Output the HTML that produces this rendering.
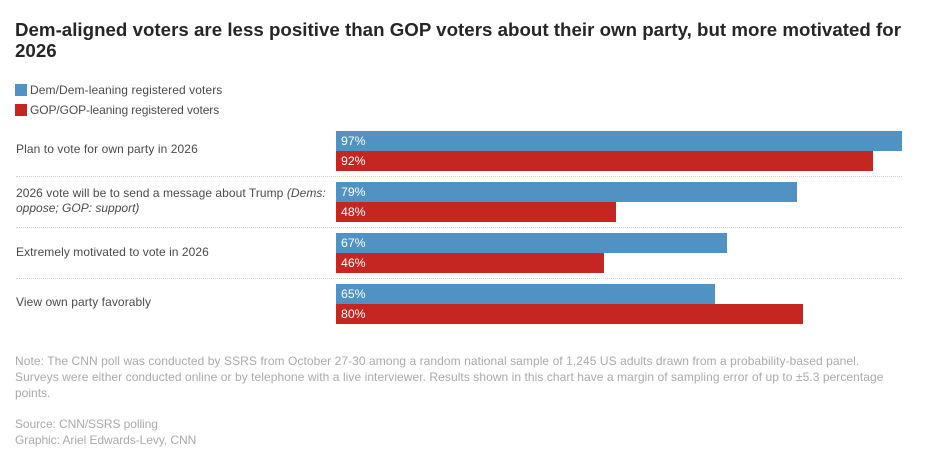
<!DOCTYPE html>
<html lang="en">
<head>
<meta charset="utf-8">
<title>Dem-aligned voters chart</title>
<style>
html,body{margin:0;padding:0;background:#fff;}
body{width:945px;height:472px;position:relative;overflow:hidden;font-family:"Liberation Sans",Arial,sans-serif;}
.t{position:absolute;white-space:nowrap;}
.title{left:15px;font-weight:700;font-size:18.7px;line-height:22px;color:#262626;letter-spacing:.02px;}
.legend-text{left:30px;font-size:12px;line-height:16px;color:#4a4a4a;}
.swatch{position:absolute;left:15px;width:12px;height:12px;}
.label{left:16px;font-size:12px;line-height:15px;color:#4a4a4a;}
.note{left:15px;font-size:12px;line-height:16px;color:#a9a9a9;}
.bar{position:absolute;height:20px;}
.val{position:absolute;left:5px;top:1px;line-height:19px;font-size:12.3px;color:#fff;white-space:nowrap;}
.sep{position:absolute;left:336px;width:566px;height:0;border-top:1px dotted #d2d2d2;}
</style>
</head>
<body>
<div class="t title" style="top:19px">Dem-aligned voters are less positive than GOP voters about their own party, but more motivated for</div>
<div class="t title" style="top:40px">2026</div>

<div class="swatch" style="top:84px;background:#4f92c3"></div>
<div class="t legend-text" style="top:82px;letter-spacing:.09px">Dem/Dem-leaning registered voters</div>
<div class="swatch" style="top:104px;background:#c52622"></div>
<div class="t legend-text" style="top:102px;letter-spacing:-.09px">GOP/GOP-leaning registered voters</div>

<div class="t label" style="top:142px;letter-spacing:.09px">Plan to vote for own party in 2026</div>
<div class="t label" style="top:186px;letter-spacing:.055px">2026 vote will be to send a message about Trump <i>(Dems:</i></div>
<div class="t label" style="top:201px"><i>oppose; GOP: support)</i></div>
<div class="t label" style="top:245px;letter-spacing:.06px">Extremely motivated to vote in 2026</div>
<div class="t label" style="top:295px;letter-spacing:.08px">View own party favorably</div>

<div id="plot"></div>

<div class="t note" style="top:353px;letter-spacing:.068px">Note: The CNN poll was conducted by SSRS from October 27-30 among a random national sample of 1,245 US adults drawn from a probability-based panel.</div>
<div class="t note" style="top:369px;letter-spacing:.0625px">Surveys were either conducted online or by telephone with a live interviewer. Results shown in this chart have a margin of sampling error of up to ±5.3 percentage</div>
<div class="t note" style="top:385px">points.</div>
<div class="t note" style="top:416px;letter-spacing:-.08px">Source: CNN/SSRS polling</div>
<div class="t note" style="top:432px;letter-spacing:-.06px">Graphic: Ariel Edwards-Levy, CNN</div>

<script>
const categories = ['plan-to-vote', 'message-trump', 'extremely-motivated', 'view-favorably'];
const demValues = [97, 79, 67, 65];
const gopValues = [92, 48, 46, 80];

function xScale(v) { return 5.835 * v; }
function rowTop(i) { return 131 + 51 * i; }

const plot = document.getElementById('plot');

function addBar(value, top, color, name) {
  const bar = document.createElement('div');
  bar.className = 'bar';
  
  
  bar.style.left = '336px';
  bar.style.top = top + 'px';
  bar.style.width = xScale(value) + 'px';
  bar.style.background = color;
  const label = document.createElement('span');
  label.className = 'val';
  
  
  label.textContent = value + '%';
  bar.appendChild(label);
  plot.appendChild(bar);
}

categories.forEach(function (cat, i) {
  addBar(demValues[i], rowTop(i), '#4f92c3', 'bar-dem-' + cat);
  addBar(gopValues[i], rowTop(i) + 20, '#c52622', 'bar-gop-' + cat);
  if (i < categories.length - 1) {
    const sep = document.createElement('div');
    sep.className = 'sep';
    
    
    sep.style.left = '16px';
    sep.style.width = '886px';
    sep.style.top = (rowTop(i) + 45) + 'px';
    plot.appendChild(sep);
  }
});
</script>
</body>
</html>
